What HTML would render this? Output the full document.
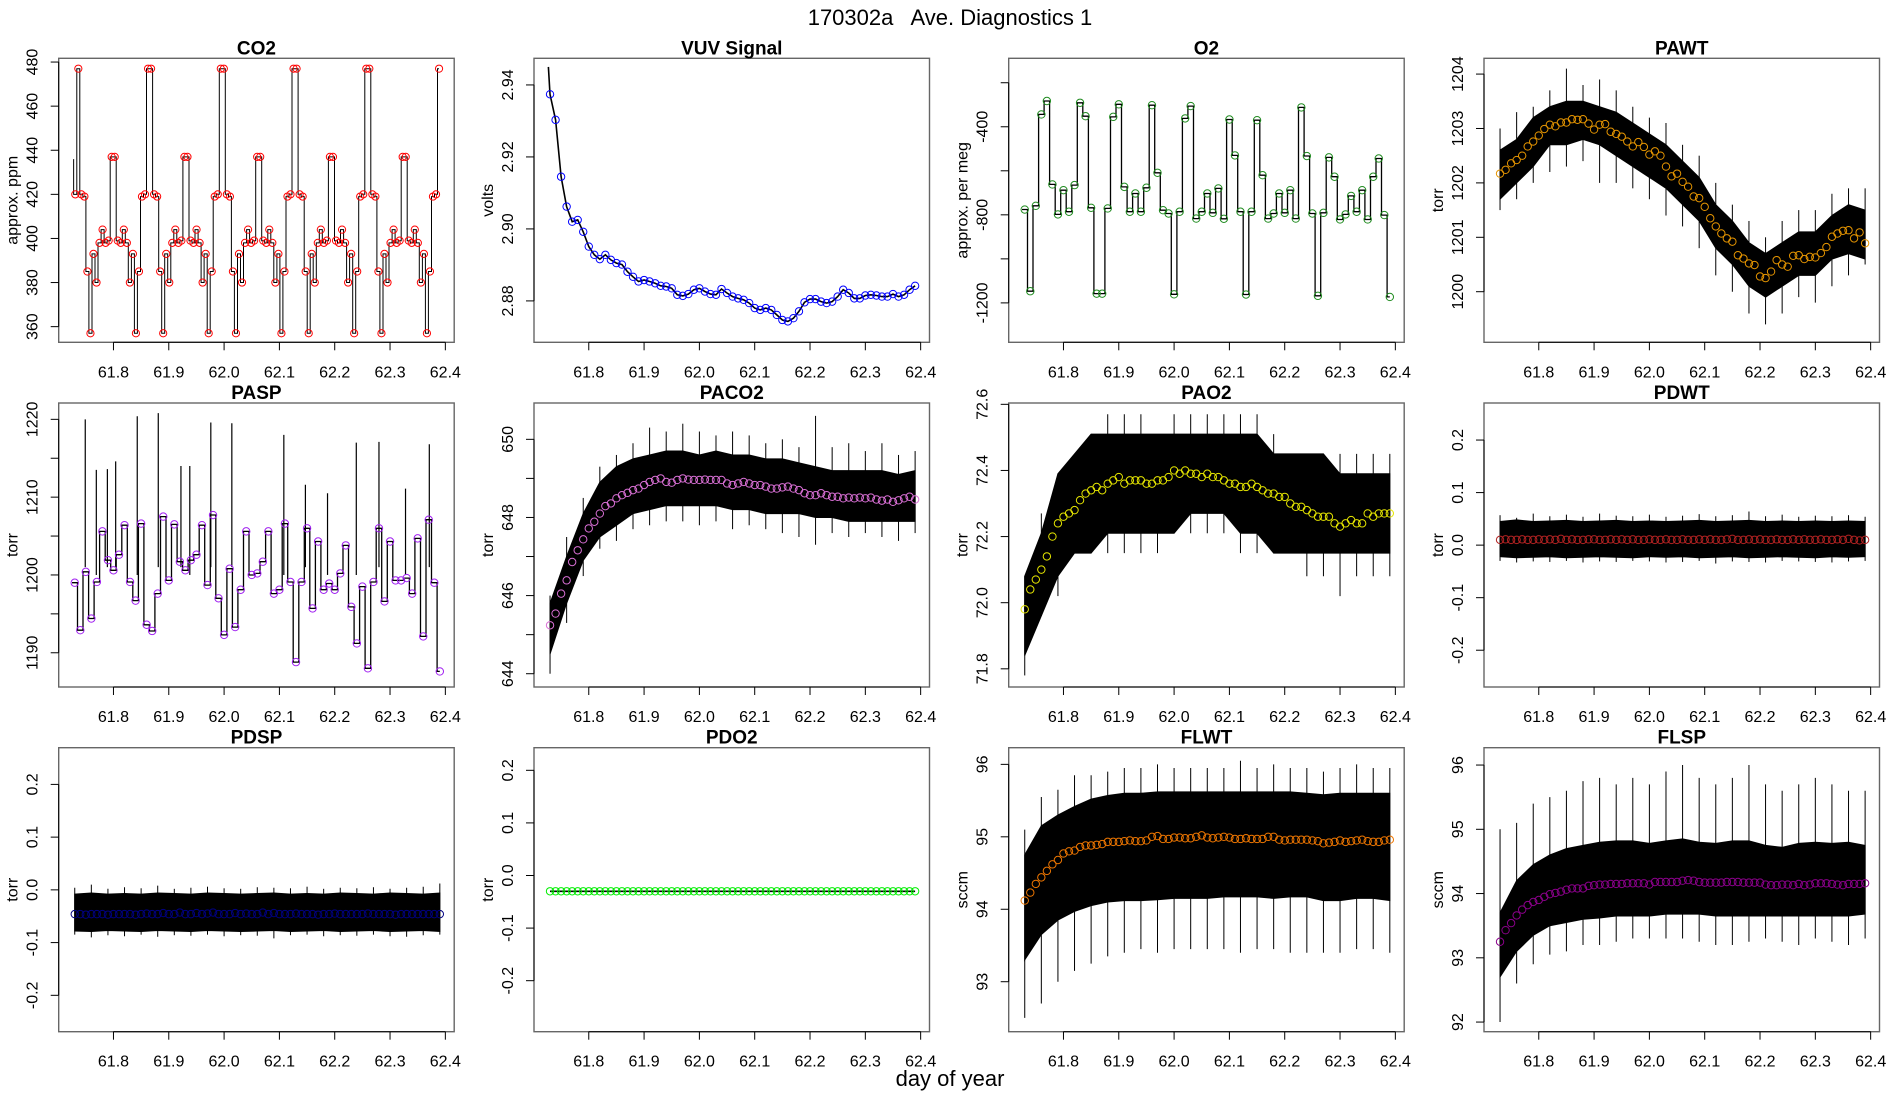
<!DOCTYPE html>
<html><head><meta charset="utf-8"><title>170302a Ave. Diagnostics 1</title>
<style>
html,body{margin:0;padding:0;background:#fff;}
svg{display:block;font-family:"Liberation Sans",Arial,sans-serif;}
</style></head>
<body>
<svg id="fig" width="1900" height="1100" viewBox="0 0 1900 1100" xmlns="http://www.w3.org/2000/svg">
<rect x="0" y="0" width="1900" height="1100" fill="#fff"/>
<text x="950" y="25" font-size="22" text-anchor="middle" xml:space="preserve">170302a   Ave. Diagnostics 1</text>
<text x="950" y="1086" font-size="22" text-anchor="middle">day of year</text>
</svg>
<script>
// ---------- data ----------
const xTicks = [61.8, 61.9, 62.0, 62.1, 62.2, 62.3, 62.4];
const xTickLabels = ["61.8", "61.9", "62.0", "62.1", "62.2", "62.3", "62.4"];
const meanStart = 61.73, meanStep = 0.01;
const bandStart = 61.73, bandStep = 0.03;

const co2Start = 61.731, co2Step = 0.00548;
const co2Lead = [61.728, 436];
const co2Values = [420,477,420,419,385,357,393,380,398,404,398,399,437,437,399,398,404,398,380,393,357,385,419,420,
477,477,420,419,385,357,393,380,398,404,398,399,437,437,399,398,404,398,380,393,357,385,419,420,
477,477,420,419,385,357,393,380,398,404,398,399,437,437,399,398,404,398,380,393,357,385,419,420,
477,477,420,419,385,357,393,380,398,404,398,399,437,437,399,398,404,398,380,393,357,385,419,420,
477,477,420,419,385,357,393,380,398,404,398,399,437,437,399,398,404,398,380,393,357,385,419,420,477];

const vuvLead = [61.727, 2.945];
const vuvValues = [2.9374,2.9303,2.9145,2.9062,2.9020,2.9025,2.8992,2.8951,2.8928,2.8916,2.8928,2.8914,2.8905,2.8901,2.8881,2.8867,2.8854,2.8858,2.8854,2.8849,2.8842,2.8840,2.8835,2.8817,2.8814,2.8819,2.8831,2.8835,2.8826,2.8819,2.8817,2.8833,2.8822,2.8812,2.8807,2.8803,2.8794,2.8780,2.8775,2.8780,2.8775,2.8761,2.8747,2.8743,2.8752,2.8771,2.8796,2.8805,2.8805,2.8798,2.8794,2.8798,2.8812,2.8831,2.8822,2.8807,2.8807,2.8815,2.8817,2.8815,2.8812,2.8812,2.8819,2.8812,2.8817,2.8831,2.8842];

const o2Values = [-776,-1147,-759,-344,-283,-662,-798,-688,-786,-665,-291,-352,-768,-1158,-1158,-771,-355,-298,-673,-786,-703,-786,-677,-302,-609,-779,-794,-1161,-786,-362,-306,-817,-786,-703,-791,-680,-818,-367,-530,-786,-1162,-786,-370,-620,-817,-794,-703,-791,-688,-817,-312,-533,-794,-1168,-791,-539,-627,-821,-798,-714,-786,-688,-821,-627,-544,-801,-1173];

const pawtValues = [1202.17,1202.24,1202.36,1202.42,1202.50,1202.67,1202.76,1202.87,1202.99,1203.07,1203.04,1203.11,1203.11,1203.17,1203.16,1203.17,1203.09,1202.98,1203.07,1203.08,1202.94,1202.90,1202.85,1202.76,1202.67,1202.75,1202.66,1202.52,1202.58,1202.50,1202.30,1202.12,1202.17,1202.02,1201.93,1201.75,1201.72,1201.56,1201.35,1201.20,1201.07,1200.98,1200.92,1200.67,1200.61,1200.52,1200.49,1200.28,1200.25,1200.37,1200.58,1200.50,1200.46,1200.66,1200.67,1200.60,1200.64,1200.63,1200.71,1200.82,1201.01,1201.07,1201.12,1201.13,1200.98,1201.09,1200.89];
const pawtBandHi = [1202.6,1202.8,1203.2,1203.4,1203.5,1203.5,1203.4,1203.3,1203.1,1202.9,1202.7,1202.4,1202.1,1201.6,1201.3,1200.9,1200.7,1200.9,1201.1,1201.1,1201.4,1201.6,1201.5];
const pawtBandLo = [1201.7,1202.0,1202.3,1202.7,1202.7,1202.8,1202.7,1202.5,1202.3,1202.1,1201.9,1201.6,1201.3,1200.8,1200.5,1200.1,1199.9,1200.1,1200.3,1200.3,1200.6,1200.7,1200.6];
const pawtSpikeHi = [1203.0,1203.3,1203.4,1203.7,1204.1,1203.8,1203.9,1203.7,1203.4,1203.2,1203.1,1202.7,1202.5,1202.0,1201.6,1201.3,1201.0,1201.3,1201.5,1201.5,1201.8,1201.9,1201.9];
const pawtSpikeLo = [1201.5,1201.7,1202.0,1202.2,1202.3,1202.4,1202.0,1202.0,1201.9,1201.7,1201.4,1201.2,1200.8,1200.3,1200.0,1199.6,1199.4,1199.6,1199.9,1199.8,1200.1,1200.3,1200.5];

const paspValues = [1199.0,1192.9,1200.4,1194.4,1199.1,1205.6,1201.9,1200.6,1202.6,1206.4,1199.1,1196.7,1206.6,1193.6,1192.8,1197.6,1207.5,1199.3,1206.5,1201.7,1200.6,1201.9,1202.6,1206.4,1198.7,1207.7,1197.0,1192.3,1200.8,1193.3,1198.1,1205.6,1200.0,1200.2,1201.7,1205.6,1197.6,1198.1,1206.6,1199.1,1188.8,1199.1,1206.0,1195.7,1204.3,1198.1,1198.9,1198.1,1200.2,1203.8,1195.9,1191.2,1198.5,1188.0,1199.1,1206.0,1196.6,1204.3,1199.3,1199.3,1199.6,1197.6,1204.7,1192.1,1207.1,1199.0,1187.6];
const paspSpikeT = [61.749,61.769,61.789,61.804,61.843,61.881,61.922,61.938,61.976,62.014,62.108,62.147,62.187,62.239,62.280,62.328,62.371];
const paspSpikeTop = [1220.0,1213.5,1213.6,1214.6,1220.4,1220.8,1214.0,1214.0,1219.6,1219.5,1218.0,1211.6,1210.5,1217.0,1217.1,1211.1,1216.8];
const paspSpikeBase = [1201,1200,1201,1201,1200,1201,1201,1200,1201,1201,1200,1201,1200,1200,1201,1200,1201];

const paco2Values = [645.24,645.54,646.05,646.39,646.86,647.16,647.44,647.72,647.89,648.10,648.29,648.36,648.49,648.57,648.63,648.70,648.74,648.83,648.91,648.96,649.00,648.91,648.89,648.96,649.00,648.97,648.96,648.96,648.97,648.96,648.96,648.96,648.87,648.83,648.87,648.91,648.87,648.83,648.83,648.79,648.74,648.74,648.77,648.79,648.74,648.70,648.62,648.57,648.57,648.62,648.57,648.53,648.53,648.49,648.51,648.49,648.51,648.49,648.51,648.46,648.43,648.46,648.40,648.44,648.49,648.53,648.46];
const paco2BandHi = [645.8,647.0,648.1,648.9,649.3,649.5,649.6,649.7,649.7,649.6,649.7,649.6,649.6,649.5,649.5,649.4,649.3,649.2,649.2,649.2,649.2,649.1,649.2];
const paco2BandLo = [644.5,645.8,646.9,647.5,647.8,648.1,648.2,648.3,648.3,648.3,648.3,648.2,648.2,648.1,648.1,648.1,648.0,648.0,647.9,647.9,647.9,647.9,647.9];
const paco2SpikeHi = [646.0,647.5,648.5,649.3,649.6,649.9,650.3,650.2,650.4,650.2,650.1,650.2,650.1,649.9,650.0,649.8,650.6,649.8,649.9,649.7,649.9,649.6,649.7];
const paco2SpikeLo = [644.0,645.3,646.5,647.2,647.4,647.7,647.8,647.9,647.9,647.8,647.9,647.7,647.8,647.7,647.6,647.5,647.3,647.6,647.5,647.6,647.5,647.4,647.6];

const pao2Values = [71.98,72.04,72.07,72.10,72.14,72.20,72.24,72.26,72.27,72.28,72.31,72.33,72.34,72.35,72.34,72.36,72.37,72.38,72.36,72.37,72.37,72.37,72.36,72.36,72.37,72.37,72.38,72.40,72.39,72.40,72.39,72.39,72.38,72.39,72.38,72.38,72.37,72.36,72.36,72.35,72.35,72.36,72.35,72.34,72.33,72.33,72.32,72.32,72.30,72.29,72.29,72.28,72.27,72.26,72.26,72.26,72.24,72.23,72.24,72.25,72.24,72.24,72.27,72.26,72.27,72.27,72.27];
const pao2BandHi = [72.08,72.21,72.39,72.45,72.51,72.51,72.51,72.51,72.51,72.51,72.51,72.51,72.51,72.51,72.51,72.45,72.45,72.45,72.45,72.39,72.39,72.39,72.39];
const pao2BandLo = [71.84,71.96,72.08,72.15,72.15,72.21,72.21,72.21,72.21,72.21,72.27,72.27,72.27,72.21,72.21,72.15,72.15,72.15,72.15,72.15,72.15,72.15,72.15];
const pao2SpikeHi = [72.08,72.27,72.39,72.45,72.51,72.57,72.57,72.57,72.51,72.57,72.57,72.57,72.57,72.57,72.57,72.51,72.45,72.45,72.45,72.45,72.45,72.45,72.45];
const pao2SpikeLo = [71.78,71.96,72.02,72.15,72.15,72.15,72.15,72.15,72.15,72.21,72.21,72.21,72.21,72.15,72.15,72.15,72.15,72.08,72.08,72.02,72.08,72.08,72.08];

const pdwtValues = [0.010,0.011,0.010,0.010,0.011,0.010,0.010,0.011,0.010,0.011,0.010,0.012,0.010,0.011,0.010,0.010,0.011,0.011,0.010,0.010,0.011,0.010,0.011,0.010,0.011,0.010,0.010,0.011,0.010,0.010,0.011,0.010,0.010,0.011,0.010,0.010,0.011,0.010,0.011,0.010,0.010,0.011,0.012,0.010,0.010,0.011,0.010,0.011,0.010,0.010,0.011,0.010,0.010,0.011,0.010,0.011,0.010,0.010,0.011,0.010,0.010,0.011,0.010,0.012,0.010,0.009,0.010];
const pdwtBandHi = [0.045,0.048,0.045,0.046,0.047,0.045,0.046,0.047,0.045,0.046,0.045,0.046,0.047,0.045,0.046,0.047,0.045,0.046,0.045,0.046,0.045,0.046,0.045];
const pdwtBandLo = [-0.022,-0.024,-0.023,-0.022,-0.024,-0.023,-0.022,-0.023,-0.024,-0.022,-0.023,-0.022,-0.024,-0.023,-0.022,-0.024,-0.023,-0.022,-0.023,-0.024,-0.022,-0.023,-0.022];
const pdwtSpikeHi = [0.057,0.052,0.060,0.055,0.058,0.054,0.060,0.056,0.055,0.058,0.054,0.056,0.059,0.055,0.057,0.064,0.055,0.058,0.054,0.056,0.055,0.057,0.054];
const pdwtSpikeLo = [-0.030,-0.033,-0.031,-0.032,-0.030,-0.033,-0.031,-0.032,-0.030,-0.031,-0.033,-0.032,-0.030,-0.035,-0.031,-0.032,-0.033,-0.030,-0.031,-0.032,-0.033,-0.031,-0.030];

const pdspValues = [-0.046,-0.046,-0.047,-0.046,-0.046,-0.046,-0.047,-0.046,-0.046,-0.046,-0.046,-0.047,-0.046,-0.045,-0.046,-0.046,-0.044,-0.046,-0.046,-0.043,-0.046,-0.046,-0.044,-0.046,-0.045,-0.043,-0.046,-0.046,-0.046,-0.044,-0.046,-0.045,-0.046,-0.046,-0.043,-0.046,-0.044,-0.046,-0.046,-0.046,-0.045,-0.046,-0.046,-0.046,-0.047,-0.046,-0.046,-0.045,-0.046,-0.046,-0.046,-0.046,-0.046,-0.045,-0.046,-0.046,-0.046,-0.046,-0.047,-0.046,-0.046,-0.046,-0.046,-0.046,-0.046,-0.046,-0.046];
const pdspBandHi = [-0.008,-0.006,-0.008,-0.007,-0.008,-0.006,-0.007,-0.008,-0.006,-0.007,-0.008,-0.007,-0.006,-0.008,-0.007,-0.008,-0.006,-0.007,-0.008,-0.006,-0.007,-0.008,-0.006];
const pdspBandLo = [-0.078,-0.079,-0.077,-0.078,-0.079,-0.077,-0.078,-0.079,-0.077,-0.078,-0.079,-0.078,-0.077,-0.079,-0.078,-0.077,-0.079,-0.078,-0.077,-0.079,-0.078,-0.077,-0.079];
const pdspSpikeHi = [0.004,0.010,0.002,0.005,0.003,0.008,0.002,0.004,0.006,0.003,0.002,0.005,0.004,0.003,0.006,0.002,0.004,0.003,0.005,0.002,0.004,0.006,0.012];
const pdspSpikeLo = [-0.085,-0.090,-0.086,-0.088,-0.085,-0.089,-0.086,-0.087,-0.085,-0.088,-0.086,-0.087,-0.092,-0.086,-0.085,-0.088,-0.086,-0.087,-0.085,-0.088,-0.089,-0.086,-0.085];

const pdo2Values = [-0.03,-0.03,-0.03,-0.03,-0.03,-0.03,-0.03,-0.03,-0.03,-0.03,-0.03,-0.03,-0.03,-0.03,-0.03,-0.03,-0.03,-0.03,-0.03,-0.03,-0.03,-0.03,-0.03,-0.03,-0.03,-0.03,-0.03,-0.03,-0.03,-0.03,-0.03,-0.03,-0.03,-0.03,-0.03,-0.03,-0.03,-0.03,-0.03,-0.03,-0.03,-0.03,-0.03,-0.03,-0.03,-0.03,-0.03,-0.03,-0.03,-0.03,-0.03,-0.03,-0.03,-0.03,-0.03,-0.03,-0.03,-0.03,-0.03,-0.03,-0.03,-0.03,-0.03,-0.03,-0.03,-0.03,-0.03];

const flwtValues = [94.12,94.23,94.35,94.44,94.53,94.62,94.68,94.77,94.80,94.81,94.86,94.88,94.88,94.89,94.90,94.93,94.93,94.93,94.94,94.95,94.94,94.94,94.95,95.00,95.01,94.97,94.97,94.99,94.99,94.98,94.98,95.00,95.02,94.99,94.98,94.99,95.00,94.99,94.97,94.97,94.98,94.97,94.97,94.97,95.00,95.00,94.96,94.95,94.96,94.96,94.96,94.96,94.95,94.94,94.91,94.92,94.93,94.95,94.93,94.94,94.95,94.96,94.94,94.93,94.93,94.95,94.96];
const flwtBandHi = [94.75,95.15,95.30,95.42,95.52,95.57,95.60,95.60,95.62,95.62,95.62,95.62,95.62,95.62,95.62,95.62,95.62,95.60,95.58,95.60,95.60,95.60,95.60];
const flwtBandLo = [93.30,93.65,93.85,93.97,94.05,94.10,94.12,94.12,94.13,94.15,94.15,94.15,94.17,94.17,94.17,94.15,94.17,94.17,94.12,94.12,94.15,94.15,94.12];
const flwtSpikeHi = [95.10,95.55,95.65,95.85,95.85,95.90,95.95,95.95,96.00,95.95,95.95,95.95,95.95,96.05,95.95,96.00,95.95,95.95,95.90,95.95,96.00,95.95,95.95];
const flwtSpikeLo = [92.50,92.70,93.00,93.15,93.25,93.35,93.40,93.45,93.40,93.45,93.45,93.45,93.45,93.40,93.45,93.45,93.40,93.40,93.40,93.40,93.45,93.45,93.40];

const flspValues = [93.25,93.43,93.54,93.66,93.75,93.82,93.87,93.90,93.95,93.99,94.01,94.03,94.06,94.08,94.08,94.08,94.12,94.13,94.14,94.14,94.15,94.15,94.15,94.16,94.16,94.16,94.16,94.14,94.18,94.18,94.18,94.18,94.18,94.20,94.21,94.20,94.18,94.17,94.17,94.17,94.17,94.18,94.18,94.18,94.17,94.17,94.17,94.17,94.14,94.13,94.13,94.14,94.14,94.13,94.15,94.13,94.14,94.16,94.16,94.16,94.15,94.14,94.13,94.15,94.15,94.15,94.16];
const flspBandHi = [93.70,94.20,94.45,94.60,94.70,94.75,94.80,94.82,94.82,94.78,94.82,94.85,94.80,94.78,94.82,94.82,94.75,94.72,94.78,94.80,94.78,94.80,94.75];
const flspBandLo = [92.70,93.10,93.35,93.50,93.55,93.60,93.62,93.65,93.65,93.65,93.68,93.68,93.68,93.65,93.65,93.65,93.65,93.65,93.65,93.65,93.65,93.65,93.68];
const flspSpikeHi = [95.00,95.10,95.40,95.50,95.60,95.75,95.80,95.70,95.80,95.70,95.90,96.00,95.80,95.70,95.80,96.00,95.70,95.60,95.70,95.80,95.70,95.60,95.60];
const flspSpikeLo = [92.00,92.60,92.90,93.05,93.10,93.20,93.20,93.25,93.30,93.30,93.30,93.30,93.25,93.20,93.20,93.25,93.30,93.25,93.20,93.30,93.25,93.20,93.30];

// ---------- layout ----------
const svg = document.getElementById('fig');
const NS = 'http://www.w3.org/2000/svg';
const colLeft = [58.7, 534, 1008.7, 1484];
const rowTop = [58.3, 403, 747.7];
const boxW = 395.5, boxH = 284;
const xDomain = [61.701, 62.416];

function mk(tag, attrs, parent) {
  const el = document.createElementNS(NS, tag);
  for (const k in attrs) el.setAttribute(k, attrs[k]);
  (parent || svg).appendChild(el);
  return el;
}

const panels = [
  {key:'co2', title:'CO2', ylab:'approx. ppm', col:0, row:0, ylim:[352.9,481.7], ticks:[360,380,400,420,440,460,480], labels:["360","380","400","420","440","460","480"], color:'#ff0000'},
  {key:'vuv', title:'VUV Signal', ylab:'volts', col:1, row:0, ylim:[2.8685,2.9474], ticks:[2.88,2.90,2.92,2.94], labels:["2.88","2.90","2.92","2.94"], color:'#0000ff'},
  {key:'o2', title:'O2', ylab:'approx. per meg', col:2, row:0, ylim:[-1379,-89], ticks:[-1200,-1000,-800,-600,-400,-200], labels:["-1200","","-800","","-400",""], color:'#1f8b1f'},
  {key:'pawt', title:'PAWT', ylab:'torr', col:3, row:0, ylim:[1199.07,1204.29], ticks:[1200,1201,1202,1203,1204], labels:["1200","1201","1202","1203","1204"], color:'#e69500'},
  {key:'pasp', title:'PASP', ylab:'torr', col:0, row:1, ylim:[1185.6,1222.1], ticks:[1190,1195,1200,1205,1210,1215,1220], labels:["1190","","1200","","1210","","1220"], color:'#a020f0'},
  {key:'paco2', title:'PACO2', ylab:'torr', col:1, row:1, ylim:[643.66,650.93], ticks:[644,645,646,647,648,649,650], labels:["644","","646","","648","","650"], color:'#da70d6'},
  {key:'pao2', title:'PAO2', ylab:'torr', col:2, row:1, ylim:[71.745,72.604], ticks:[71.8,72.0,72.2,72.4,72.6], labels:["71.8","72.0","72.2","72.4","72.6"], color:'#e6e600'},
  {key:'pdwt', title:'PDWT', ylab:'torr', col:3, row:1, ylim:[-0.270,0.2705], ticks:[-0.2,-0.1,0,0.1,0.2], labels:["-0.2","-0.1","0.0","0.1","0.2"], color:'#b22222'},
  {key:'pdsp', title:'PDSP', ylab:'torr', col:0, row:2, ylim:[-0.269,0.2696], ticks:[-0.2,-0.1,0,0.1,0.2], labels:["-0.2","-0.1","0.0","0.1","0.2"], color:'#000080'},
  {key:'pdo2', title:'PDO2', ylab:'torr', col:1, row:2, ylim:[-0.297,0.243], ticks:[-0.2,-0.1,0,0.1,0.2], labels:["-0.2","-0.1","0.0","0.1","0.2"], color:'#00ee00'},
  {key:'flwt', title:'FLWT', ylab:'sccm', col:2, row:2, ylim:[92.31,96.23], ticks:[93,94,95,96], labels:["93","94","95","96"], color:'#ee7600'},
  {key:'flsp', title:'FLSP', ylab:'sccm', col:3, row:2, ylim:[91.85,96.27], ticks:[92,93,94,95,96], labels:["92","93","94","95","96"], color:'#8b008b'}
];

const bands = {
  pawt:[pawtBandHi,pawtBandLo,pawtSpikeHi,pawtSpikeLo],
  paco2:[paco2BandHi,paco2BandLo,paco2SpikeHi,paco2SpikeLo],
  pao2:[pao2BandHi,pao2BandLo,pao2SpikeHi,pao2SpikeLo],
  pdwt:[pdwtBandHi,pdwtBandLo,pdwtSpikeHi,pdwtSpikeLo],
  pdsp:[pdspBandHi,pdspBandLo,pdspSpikeHi,pdspSpikeLo],
  flwt:[flwtBandHi,flwtBandLo,flwtSpikeHi,flwtSpikeLo],
  flsp:[flspBandHi,flspBandLo,flspSpikeHi,flspSpikeLo]
};
const means = {co2:null, vuv:vuvValues, o2:o2Values, pawt:pawtValues, pasp:paspValues, paco2:paco2Values, pao2:pao2Values, pdwt:pdwtValues, pdsp:pdspValues, pdo2:pdo2Values, flwt:flwtValues, flsp:flspValues};
const stepped = {o2:true, pasp:true};

panels.forEach(p => {
  const L = colLeft[p.col], T = rowTop[p.row], R = L + boxW, B = T + boxH;
  const sx = t => L + (t - xDomain[0]) / (xDomain[1] - xDomain[0]) * boxW;
  const sy = v => B - (v - p.ylim[0]) / (p.ylim[1] - p.ylim[0]) * boxH;
  const g = mk('g', {});
  
  

  const clipId = 'clip-' + p.key;
  const cp = mk('clipPath', {id: clipId}, g);
  mk('rect', {x: L, y: T, width: boxW, height: boxH}, cp);
  const plot = mk('g', {'clip-path': 'url(#' + clipId + ')'}, g);
  
  

  if (bands[p.key]) {
    const [hi, lo, shi, slo] = bands[p.key];
    for (let j = 0; j < hi.length; j++) {
      const t = bandStart + j * bandStep;
      const ln = mk('line', {x1: sx(t), x2: sx(t), y1: sy(shi[j]), y2: sy(slo[j]), stroke: '#000', 'stroke-width': 1}, plot);
      
      
    }
    let pts = [];
    for (let j = 0; j < hi.length; j++) pts.push(sx(bandStart + j * bandStep).toFixed(1) + ',' + sy(hi[j]).toFixed(1));
    for (let j = lo.length - 1; j >= 0; j--) pts.push(sx(bandStart + j * bandStep).toFixed(1) + ',' + sy(lo[j]).toFixed(1));
    const poly = mk('polygon', {points: pts.join(' '), fill: '#000', stroke: '#000', 'stroke-width': 1}, plot);
    
    
  }

  if (p.key === 'pasp') {
    for (let i = 0; i < paspSpikeT.length; i++) {
      const ln = mk('line', {x1: sx(paspSpikeT[i]), x2: sx(paspSpikeT[i]), y1: sy(paspSpikeTop[i]), y2: sy(paspSpikeBase[i]), stroke: '#000', 'stroke-width': 1.2}, plot);
      
      
    }
  }

  if (p.key === 'co2') {
    let d = 'M' + sx(co2Lead[0]) + ',' + sy(co2Lead[1]) + ' V' + sy(co2Values[0]);
    for (let i = 0; i < co2Values.length; i++) {
      const t = co2Start + i * co2Step;
      if (i > 0) d += ' V' + sy(co2Values[i]).toFixed(1);
      const tn = (i < co2Values.length - 1) ? t + co2Step / 2 : t;
      d += ' H' + sx(tn).toFixed(1);
    }
    const path = mk('path', {d: d, fill: 'none', stroke: '#000', 'stroke-width': 1}, plot);
    
    
    for (let i = 0; i < co2Values.length; i++) {
      const c = mk('circle', {cx: sx(co2Start + i * co2Step), cy: sy(co2Values[i]), r: 3.6, fill: 'none', stroke: p.color, 'stroke-width': 1}, plot);
      
      
    }
  } else {
    const vals = means[p.key];
    let el;
    if (stepped[p.key]) {
      let d = 'M' + sx(meanStart - meanStep / 2).toFixed(1) + ',' + sy(vals[0]).toFixed(1);
      vals.forEach((v, i) => {
        const t = meanStart + i * meanStep;
        if (i > 0) d += ' V' + sy(v).toFixed(1);
        const tn = (i < vals.length - 1) ? t + meanStep / 2 : t;
        d += ' H' + sx(tn).toFixed(1);
      });
      el = mk('path', {d: d, fill: 'none', stroke: '#000', 'stroke-width': 1.3}, plot);
    } else {
      let pts = [];
      if (p.key === 'vuv') pts.push(sx(vuvLead[0]).toFixed(1) + ',' + sy(vuvLead[1]).toFixed(1));
      vals.forEach((v, i) => pts.push(sx(meanStart + i * meanStep).toFixed(1) + ',' + sy(v).toFixed(1)));
      el = mk('polyline', {points: pts.join(' '), fill: 'none', stroke: '#000', 'stroke-width': 1.6}, plot);
    }
    
    
    vals.forEach((v, i) => {
      const c = mk('circle', {cx: sx(meanStart + i * meanStep), cy: sy(v), r: 3.7, fill: 'none', stroke: p.color, 'stroke-width': 1}, plot);
      
      
    });
  }

  const box = mk('rect', {x: L, y: T, width: boxW, height: boxH, fill: 'none', stroke: '#666', 'stroke-width': 1.4}, g);
  
  

  const xa = mk('g', {}, g);
  
  
  mk('line', {x1: sx(xTicks[0]), x2: sx(xTicks[xTicks.length - 1]), y1: B, y2: B, stroke: '#000', 'stroke-width': 1}, xa);
  xTicks.forEach((t, i) => {
    mk('line', {x1: sx(t), x2: sx(t), y1: B, y2: B + 8, stroke: '#000', 'stroke-width': 1}, xa);
    const tx = mk('text', {x: sx(t), y: B + 35, 'font-size': 16, 'text-anchor': 'middle'}, xa);
    
    
    tx.textContent = xTickLabels[i];
  });

  const ya = mk('g', {}, g);
  
  
  mk('line', {x1: L, x2: L, y1: sy(p.ticks[0]), y2: sy(p.ticks[p.ticks.length - 1]), stroke: '#000', 'stroke-width': 1}, ya);
  p.ticks.forEach((v, i) => {
    mk('line', {x1: L - 8, x2: L, y1: sy(v), y2: sy(v), stroke: '#000', 'stroke-width': 1}, ya);
    if (p.labels[i]) {
      const ty = L - 21, yy = sy(v);
      const tx = mk('text', {x: ty, y: yy, 'font-size': 16, 'text-anchor': 'middle', transform: 'rotate(-90 ' + ty + ' ' + yy + ')'}, ya);
      
      
      tx.textContent = p.labels[i];
    }
  });
  const yx = L - 41, yy = (T + B) / 2;
  const yt = mk('text', {x: yx, y: yy, 'font-size': 16, 'text-anchor': 'middle', transform: 'rotate(-90 ' + yx + ' ' + yy + ')'}, g);
  
  
  yt.textContent = p.ylab;

  const tt = mk('text', {x: (L + R) / 2, y: T - 4, 'font-size': 19, 'font-weight': 'bold', 'text-anchor': 'middle'}, g);
  
  
  tt.textContent = p.title;
});
</script>
</body></html>
